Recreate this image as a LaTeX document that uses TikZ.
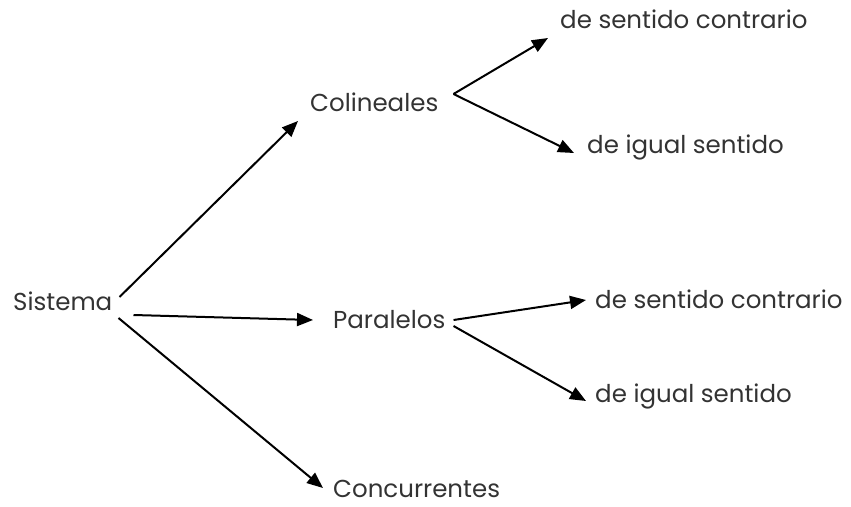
\documentclass[tikz,border=0pt]{standalone}
\usepackage{fontspec}
\setmainfont{Poppins}
\usetikzlibrary{arrows.meta,calc}
\tikzset{
  lbl/.style={inner sep=0pt, anchor=base west, font=\fontsize{24.5}{29}\selectfont, text=black!80},
  arr/.style={line width=2pt, -{Triangle[length=16pt,width=13pt]}}
}
\begin{document}
\begin{tikzpicture}[x=1pt,y=-1pt]
\useasboundingbox (0,0) rectangle (851,506);
\node[lbl] (sis) at (13,310) {Sistema};
\node[lbl] (col) at (310,111) {Colineales};
\node[lbl] (par) at (333,328) {Paralelos};
\node[lbl] (con) at (333,497) {Concurrentes};
\node[lbl] (sc1) at (560,28) {de sentido contrario};
\node[lbl] (ig1) at (587,153) {de igual sentido};
\node[lbl] (sc2) at (595,308) {de sentido contrario};
\node[lbl] (ig2) at (595,402) {de igual sentido};
\draw[arr] ($(sis.base east)+(7,-13)$) -- ($(col.base west)+(-12,10)$);
\draw[arr] ($(sis.base east)+(21,5)$) -- ($(par.base west)+(-20,-8)$);
\draw[arr] ($(sis.base east)+(6,8)$) -- ($(con.base west)+(-10,-9)$);
\coordinate (cv) at ($(col.base east)+(15,-17)$);
\draw[arr] (cv) -- ($(sc1.base west)+(-12,10)$);
\draw[arr] (cv) -- ($(ig1.base west)+(-13,0)$);
\draw[arr] ($(par.base east)+(8,-8)$) -- ($(sc2.base west)+(-9,-8)$);
\draw[arr] ($(par.base east)+(8,-2)$) -- ($(ig2.base west)+(-9,-1)$);
\end{tikzpicture}
\end{document}
